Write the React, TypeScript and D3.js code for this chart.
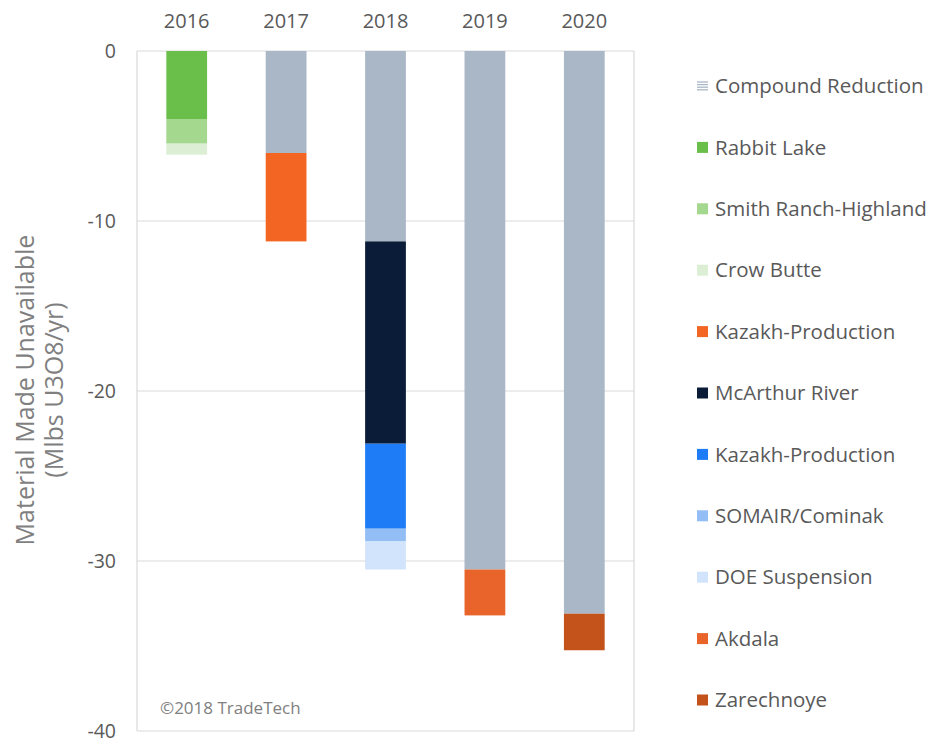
import React from "react";
import * as d3 from "d3";

const years = ["2016", "2017", "2018", "2019", "2020"];

const seriesNames = [
  "Compound Reduction",
  "Rabbit Lake",
  "Smith Ranch-Highland",
  "Crow Butte",
  "Kazakh-Production",
  "McArthur River",
  "Kazakh-Production",
  "SOMAIR/Cominak",
  "DOE Suspension",
  "Akdala",
  "Zarechnoye",
];

const seriesColors = [
  "#a9b7c6",
  "#6abf4b",
  "#a4d88e",
  "#dcefd4",
  "#f26522",
  "#0b1c38",
  "#1f7cf7",
  "#93bdf5",
  "#d2e4fb",
  "#e8642a",
  "#c4521b",
];

// values per series, one entry per year (negative = unavailable)
const compoundReduction = [0, -6.0, -11.2, -30.5, -33.1];
const rabbitLake = [-4.0, 0, 0, 0, 0];
const smithRanch = [-1.45, 0, 0, 0, 0];
const crowButte = [-0.65, 0, 0, 0, 0];
const kazakhOrange = [0, -5.2, 0, 0, 0];
const mcArthur = [0, 0, -11.9, 0, 0];
const kazakhBlue = [0, 0, -5.0, 0, 0];
const somair = [0, 0, -0.75, 0, 0];
const doeSuspension = [0, 0, -1.65, 0, 0];
const akdala = [0, 0, 0, -2.7, 0];
const zarechnoye = [0, 0, 0, 0, -2.15];

const seriesValues = [
  compoundReduction,
  rabbitLake,
  smithRanch,
  crowButte,
  kazakhOrange,
  mcArthur,
  kazakhBlue,
  somair,
  doeSuspension,
  akdala,
  zarechnoye,
];

const yTicks = [0, -10, -20, -30, -40];

export default function App() {
  const W = 931;
  const H = 738;
  const left = 137;
  const right = 634;
  const top = 51;
  const bottom = 731;
  const font = "'Open Sans', sans-serif";

  const x = d3.scaleBand<string>().domain(years).range([left, right]).paddingInner(0.59).paddingOuter(0.295);
  const y = d3.scaleLinear().domain([0, -40]).range([top, bottom]);

  const rects: React.ReactNode[] = [];
  years.forEach((yr, i) => {
    let cum = 0;
    seriesValues.forEach((vals, s) => {
      const v = vals[i];
      if (v === 0) return;
      const y0 = y(cum);
      const y1 = y(cum + v);
      cum += v;
      rects.push(
        <rect key={`${yr}-${s}`} x={x(yr)} y={y0} width={x.bandwidth()} height={y1 - y0} fill={seriesColors[s]} />
      );
    });
  });

  const legendY0 = 86;
  const legendStep = 61.4;

  return (
    <svg
      width={W}
      height={H}
      style={{ display: "block", background: "#fff", position: "absolute", left: 0, top: 0 }}
    >
      {yTicks.map((t) => (
        <line key={t} x1={left} x2={right} y1={y(t)} y2={y(t)} stroke="#d9d9d9" strokeWidth={1.2} />
      ))}
      <line x1={left} x2={left} y1={top} y2={bottom} stroke="#d9d9d9" strokeWidth={1.2} />
      <line x1={right} x2={right} y1={top} y2={bottom} stroke="#d9d9d9" strokeWidth={1.2} />
      {rects}
      {yTicks.map((t) => (
        <text key={t} x={116} y={y(t)} dy="0.35em" textAnchor="end" fontFamily={font} fontSize={19.5} fill="#595959">
          {t}
        </text>
      ))}
      {years.map((yr) => (
        <text key={yr} x={(x(yr) as number) + x.bandwidth() / 2} y={28} textAnchor="middle" fontFamily={font} fontSize={20} fill="#595959">
          {yr}
        </text>
      ))}
      <text transform="translate(34,390) rotate(-90)" textAnchor="middle" fontFamily={font} fontSize={25} fill="#7f7f7f">
        Material Made Unavailable
      </text>
      <text transform="translate(63,390) rotate(-90)" textAnchor="middle" fontFamily={font} fontSize={25} fill="#7f7f7f">
        (Mlbs U3O8/yr)
      </text>
      <text x={160} y={714} fontFamily={font} fontSize={17} fill="#808080">
        ©2018 TradeTech
      </text>
      {seriesNames.map((name, s) => {
        const cy = legendY0 + s * legendStep;
        return (
          <g key={s}>
            {s === 0 ? (
              <g>
                {[0, 1, 2, 3].map((k) => (
                  <line key={k} x1={697} x2={708} y1={cy - 4 + k * 2.6} y2={cy - 4 + k * 2.6} stroke={seriesColors[0]} strokeWidth={1.3} />
                ))}
              </g>
            ) : (
              <rect x={697} y={cy - 5.5} width={11} height={11} fill={seriesColors[s]} />
            )}
            <text x={715} y={cy} dy="0.35em" fontFamily={font} fontSize={20.5} fill="#595959">
              {name}
            </text>
          </g>
        );
      })}
    </svg>
  );
}
